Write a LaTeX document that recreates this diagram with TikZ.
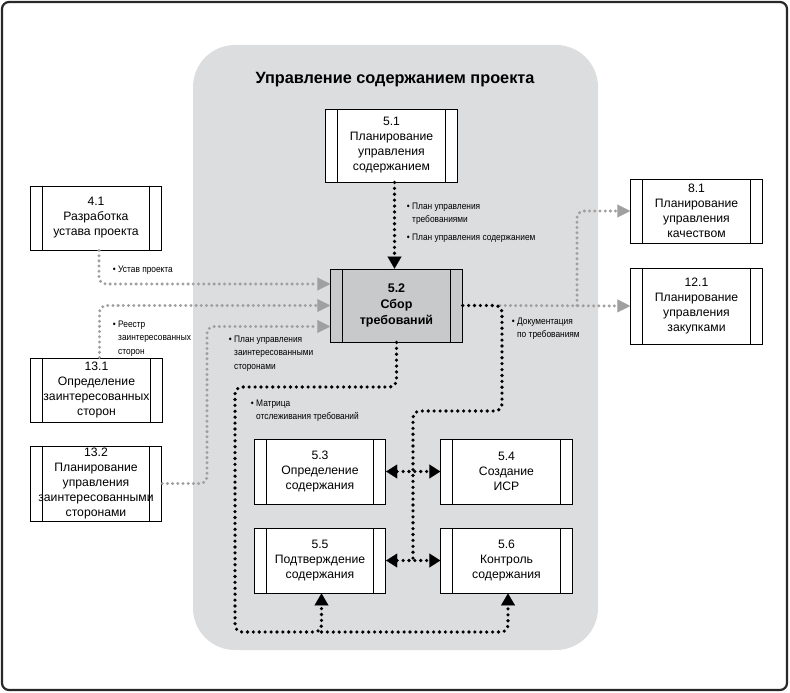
\documentclass[tikz,border=0pt]{standalone}
\usepackage{fontspec}
\setmainfont{Liberation Sans}
\newfontfamily\condf[FakeStretch=0.88]{Liberation Sans}
\usetikzlibrary{arrows.meta}
\definecolor{panel}{RGB}{220,221,222}
\definecolor{dotgray}{RGB}{160,160,160}
\definecolor{boxgray}{RGB}{200,201,202}
\definecolor{framec}{RGB}{40,40,40}
\tikzset{
  procbox/.style={draw=black, line width=0.9pt, fill=white, minimum width=131.5pt,
    minimum height=#1, inner sep=0pt, align=center,
    font=\fontsize{12.2}{15}\selectfont,
    path picture={
      \draw[line width=0.9pt] ([xshift=12pt]path picture bounding box.north west) -- ([xshift=12pt]path picture bounding box.south west);
      \draw[line width=0.9pt] ([xshift=-12pt]path picture bounding box.north east) -- ([xshift=-12pt]path picture bounding box.south east);}},
  procbox/.default=64pt,
  mainbox/.style={procbox=73pt, fill=boxgray, font=\bfseries\fontsize{12.5}{16}\selectfont},
  titletext/.style={font=\bfseries\fontsize{16.3}{19}\selectfont, inner sep=0pt},
  lbl/.style={font=\condf\fontsize{9.5}{13.3}\selectfont, align=left, anchor=west, inner sep=0pt},
  blackdots/.style={draw=black, line width=3.6pt, line cap=round, dash pattern=on 0pt off 5.9pt},
  graydots/.style={draw=dotgray, line width=3.3pt, line cap=round, dash pattern=on 0pt off 5.2pt},
  blacktip/.style={-{Triangle[width=14pt,length=12pt,line width=0.1pt]}},
  blacktips/.style={{Triangle[width=14pt,length=11pt,line width=0.1pt]}-{Triangle[width=14pt,length=11pt,line width=0.1pt]}},
  graytip/.style={-{Triangle[width=13pt,length=13pt,line width=0.1pt]}},
}
\newcommand{\bul}{\llap{\textbullet\hspace{2.5pt}}}
\begin{document}
\begin{tikzpicture}[x=1pt,y=-1pt]
\useasboundingbox (0,0) rectangle (790,693);
\draw[framec, line width=2.2pt, rounded corners=7pt] (2,2) rectangle (787,690);
\fill[panel, rounded corners=42pt] (193,45) rectangle (598,650);
\node[titletext] (title) at (395,80) {Управление содержанием проекта};

\node[procbox=73pt] (s51) at (391.5,145.5) {5.1\\Планирование\\управления\\содержанием};
\node[procbox=64pt] (s41) at (96,218) {4.1\\Разработка\\устава проекта};
\node[mainbox] (s52) at (396.5,305.5) {5.2\\Сбор\\требований};
\node[procbox=64pt] (s81) at (696.5,211) {8.1\\Планирование\\управления\\качеством};
\node[procbox=76pt] (s121) at (696.5,306) {12.1\\Планирование\\управления\\закупками};
\node[procbox=64pt] (s131) at (96.5,390) {13.1\\Определение\\заинтересованных\\сторон};
\node[procbox=75pt] (s132) at (96,483.5) {13.2\\Планирование\\управления\\заинтересованными\\сторонами};
\node[procbox=65pt] (s53) at (320,471.5) {5.3\\Определение\\содержания};
\node[procbox=65pt] (s54) at (506.5,471.5) {5.4\\Создание\\ИСР};
\node[procbox=65pt] (s55) at (320,560.5) {5.5\\Подтверждение\\содержания};
\node[procbox=65pt] (s56) at (506.5,560.5) {5.6\\Контроль\\содержания};

% labels
\node[lbl] (l1) at (412,213.5) {\bul План управления\\требованиями};
\node[lbl] (l2) at (412,238) {\bul План управления содержанием};
\node[lbl] (l3) at (118,270) {\bul Устав проекта};
\node[lbl] (l4) at (118,338.5) {\bul Реестр\\заинтересованных\\сторон};
\node[lbl] (l5) at (234,353.5) {\bul План управления\\заинтересованными\\сторонами};
\node[lbl] (l6) at (517,329) {\bul Документация\\по требованиям};
\node[lbl] (l7) at (256,410.5) {\bul Матрица\\отслеживания требований};

% connectors
\draw[blackdots, blacktip] ([xshift=3pt]s51.south) -- ([xshift=-2pt]s52.north);

\draw[graydots, graytip, rounded corners=7pt] ([xshift=3pt]s41.south) |- ([yshift=21.5pt]s52.west);
\draw[graydots, graytip, rounded corners=7pt] ([xshift=3pt]s131.north) |- (s52.west);
\draw[graydots, graytip, rounded corners=7pt] (s132.east) -- (207,483.5) |- ([yshift=-21pt]s52.west);

\coordinate (split) at (500,305.5);
\draw[graydots, graytip] (split) -- (s121.west);
\draw[graydots, graytip, rounded corners=7pt] (577,305.5) |- (s81.west);
\draw[blackdots, rounded corners=7pt] (s52.east) -| (502,411) -| (413,560.5);

\draw[blackdots, blacktips] (s53.east) -- (s54.west);
\draw[blackdots, blacktips] (s55.east) -- (s56.west);

\coordinate (m55) at (321.5,632);
\draw[blackdots, blacktip, rounded corners=7pt] (s52.south) |- (235,387) |- (m55) -- ([xshift=1.5pt]s55.south);
\draw[blackdots, blacktip, rounded corners=7pt] (m55) -| ([xshift=1.5pt]s56.south);
\end{tikzpicture}
\end{document}
